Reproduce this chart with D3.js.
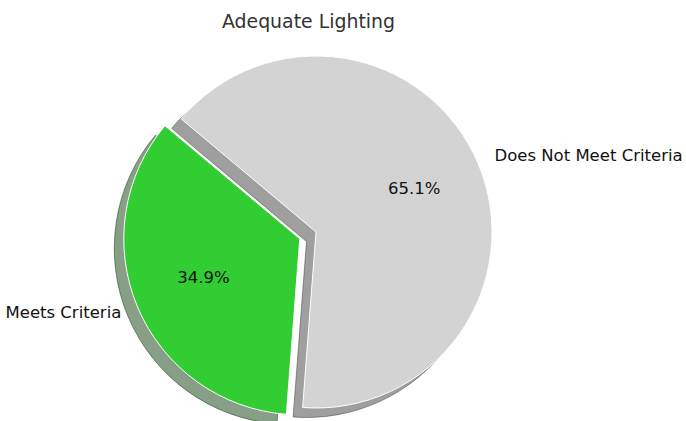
<!DOCTYPE html>
<html>
<head>
<meta charset="utf-8">
<script src="https://cdn.jsdelivr.net/npm/d3@7"></script>
<style>
  html, body { margin: 0; padding: 0; background: #fff; }
  svg { display: block; }
  text { font-family: "DejaVu Sans", sans-serif; }
</style>
</head>
<body>
<svg id="chart" width="686" height="421"></svg>
<script>
const title = "Adequate Lighting";
const categories = ["Meets Criteria", "Does Not Meet Criteria"];
const values = [34.9, 65.1];
const colors = ["#32cd32", "#d3d3d3"];
const explode = [0.1, 0];
const startAngleDeg = 140; // matplotlib style, counterclockwise from 3 o'clock

const W = 686, H = 421;
const cx = 316, cy = 232, R = 176;
const shadowOffset = 0.054; // in radius units (left / down)
const labelDistance = 1.1, pctDistance = 0.6;

const svg = d3.select("#chart");

const rad = d => d * Math.PI / 180;
const a0 = rad(90 - startAngleDeg);
const pie = d3.pie().sort(null).value(d => d.value)
  .startAngle(a0).endAngle(a0 - 2 * Math.PI);

const data = categories.map((c, i) => ({ label: c, value: values[i], color: colors[i], explode: explode[i] }));
const arcsData = pie(data);
const total = d3.sum(values);

const rScale = d3.scaleLinear().domain([0, 1]).range([0, R]);
const arc = d3.arc().innerRadius(0).outerRadius(rScale(1));

function mid(d) { return (d.startAngle + d.endAngle) / 2; }
function polar(a, r) { return [Math.sin(a) * r, -Math.cos(a) * r]; }

const g = svg.append("g").attr("transform", `translate(${cx},${cy})`);

// shadows (matplotlib: 0.3 * color, alpha 0.5)
arcsData.forEach(d => {
  const [ex, ey] = polar(mid(d), rScale(d.data.explode));
  const c = d3.rgb(d.data.color);
  const sc = d3.rgb(c.r * 0.3, c.g * 0.3, c.b * 0.3);
  g.append("path")
    .attr("d", arc(d))
    .attr("transform", `translate(${ex - rScale(shadowOffset)},${ey + rScale(shadowOffset)})`)
    .attr("fill", sc.toString())
    .attr("stroke", sc.toString())
    .attr("stroke-width", 1)
    .attr("fill-opacity", 0.5)
    .attr("stroke-opacity", 0.5);
});

// wedges
arcsData.forEach(d => {
  const [ex, ey] = polar(mid(d), rScale(d.data.explode));
  g.append("path")
    .attr("d", arc(d))
    .attr("transform", `translate(${ex},${ey})`)
    .attr("fill", d.data.color)
    .attr("stroke", "#ffffff")
    .attr("stroke-width", 1)
    .attr("stroke-linejoin", "miter");
});

// labels and percentages
const fs = 16.5;
arcsData.forEach(d => {
  const m = mid(d);
  const [ex, ey] = polar(m, rScale(d.data.explode));
  const [lx, ly] = polar(m, rScale(labelDistance));
  g.append("text")
    .attr("x", ex + lx).attr("y", ey + ly + fs * 0.26)
    .attr("text-anchor", lx < 0 ? "end" : "start")
    .attr("font-size", fs)
    .attr("fill", "#111111")
    .text(d.data.label);
  const [px, py] = polar(m, rScale(pctDistance));
  g.append("text")
    .attr("x", ex + px + 1).attr("y", ey + py + fs * 0.26 - 1)
    .attr("text-anchor", "middle")
    .attr("font-size", fs)
    .attr("fill", "#111111")
    .text(d3.format(".1f")(d.value / total * 100) + "%");
});

svg.append("text")
  .attr("x", 308.5).attr("y", 28)
  .attr("text-anchor", "middle")
  .attr("font-size", 18.9)
  .attr("fill", "#333333")
  .text(title);
</script>
</body>
</html>
